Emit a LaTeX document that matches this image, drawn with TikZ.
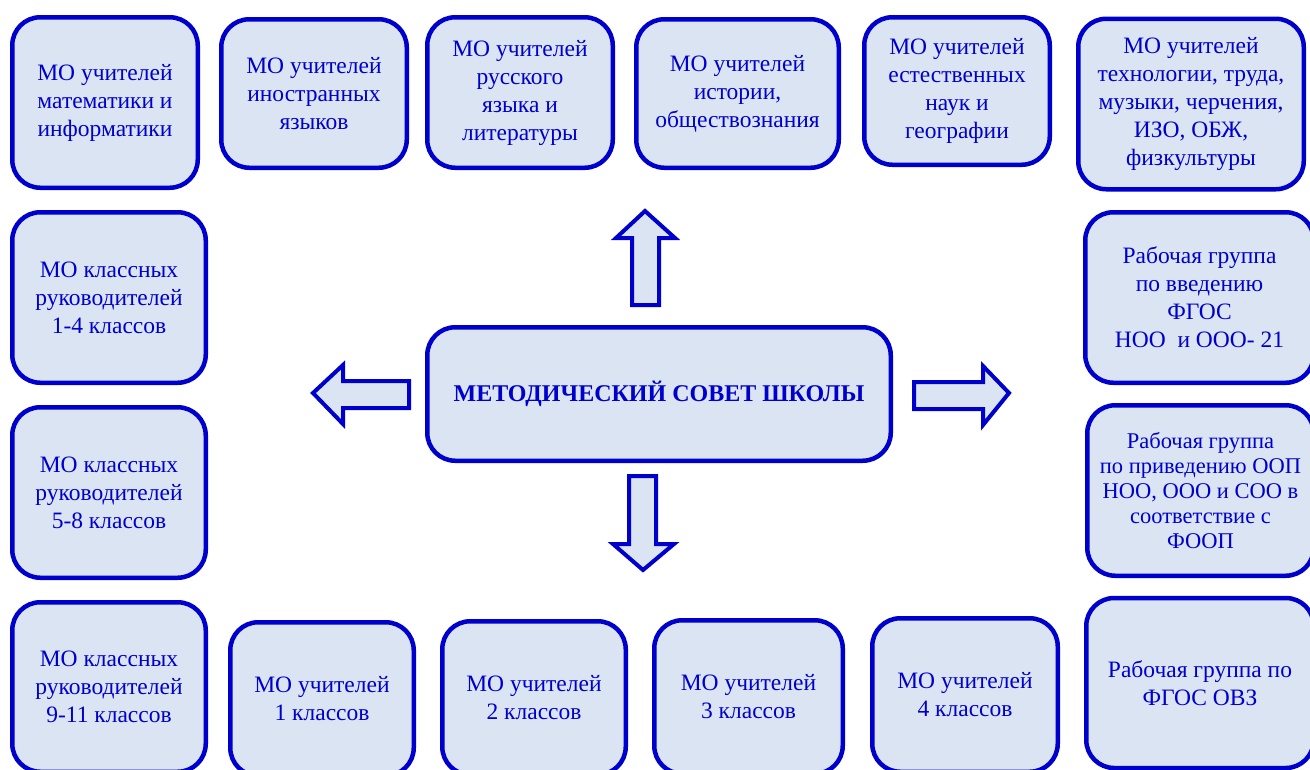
\documentclass[tikz,border=0pt]{standalone}
\usepackage{fontspec}
\setmainfont{Liberation Serif}
\definecolor{bblue}{RGB}{0,0,204}
\definecolor{bfill}{RGB}{219,228,242}
\tikzset{
  box/.style={draw=bblue, fill=bfill, line width=4.5pt, rounded corners=28pt,
    align=center, text=bblue, inner sep=0pt, font=\fontsize{23.5}{28}\selectfont},
  blockarrow/.style={draw=bblue, fill=bfill, line width=4pt, line join=miter}
}
\begin{document}
\begin{tikzpicture}[x=1pt,y=-1pt]
\useasboundingbox (0,0) rectangle (1310,769);
\clip (0,0) rectangle (1310,769);
\fill[white] (0,0) rectangle (1310,769);
% top row
\node[box, minimum width=185.5pt, minimum height=170.5pt] (m1) at (105,102.5) {МО учителей\\математики и\\информатики};
\node[box, minimum width=185.5pt, minimum height=148.5pt] (m2) at (314,93.5) {МО учителей\\иностранных\\языков};
\node[box, minimum width=185.5pt, minimum height=150.5pt] (m3) at (520,92.5) {МО учителей\\русского\\языка и\\литературы};
\node[box, minimum width=202.5pt, minimum height=148.5pt] (m4) at (737.5,93.5) {МО учителей\\истории,\\обществознания};
\node[box, minimum width=185.5pt, minimum height=147.5pt] (m5) at (957,91) {МО учителей\\естественных\\наук и\\географии};
\node[box, minimum width=225.5pt, minimum height=170.5pt] (m6) at (1191,104) {МО учителей\\технологии, труда,\\музыки, черчения,\\ИЗО, ОБЖ,\\физкультуры};
% left column
\node[box, minimum width=193.5pt, minimum height=170.5pt] (k1) at (109,297.5) {МО классных\\руководителей\\1-4 классов};
\node[box, minimum width=193.5pt, minimum height=170.5pt] (k2) at (109,492.5) {МО классных\\руководителей\\5-8 классов};
\node[box, minimum width=193.5pt, minimum height=169.5pt] (k3) at (109,687) {МО классных\\руководителей\\9-11 классов};
% bottom row
\node[box, minimum width=183.5pt, minimum height=153.5pt] (n1) at (322,699) {МО учителей\\1 классов};
\node[box, minimum width=183.5pt, minimum height=153.5pt] (n2) at (534,698) {МО учителей\\2 классов};
\node[box, minimum width=188.5pt, minimum height=153.5pt] (n3) at (748.5,697) {МО учителей\\3 классов};
\node[box, minimum width=185.5pt, minimum height=153.5pt] (n4) at (965,695) {МО учителей\\4 классов};
% right column
\node[box, minimum width=228.5pt, minimum height=170.5pt] (r1) at (1199.5,297.5) {Рабочая группа\\по введению\\ФГОС\\НОО~ и ООО- 21};
\node[box, minimum width=226.5pt, minimum height=170.5pt, font=\fontsize{22.5}{25}\selectfont] (r2) at (1200.5,490.5) {Рабочая группа\\по приведению ООП\\НОО, ООО и СОО в\\соответствие с\\ФООП};
\node[box, minimum width=227.5pt, minimum height=170pt] (r3) at (1200,683) {Рабочая группа по\\ФГОС ОВЗ};
% centre
\node[box, minimum width=463.5pt, minimum height=133.5pt, font=\fontsize{24}{28}\selectfont\bfseries] (c) at (659,394) {МЕТОДИЧЕСКИЙ СОВЕТ ШКОЛЫ};
% block arrows
\draw[blockarrow] (632,305) -- (632,238) -- (616,238) -- (645,211) -- (675,238) -- (659,238) -- (659,305) -- cycle;
\draw[blockarrow] (629,476) -- (656,476) -- (656,544) -- (674,544) -- (643,570) -- (613,544) -- (629,544) -- cycle;
\draw[blockarrow] (409,381) -- (343,381) -- (343,365) -- (313,393) -- (343,424) -- (343,408) -- (409,408) -- cycle;
\draw[blockarrow] (914,382) -- (983,382) -- (983,366) -- (1009,393) -- (983,425) -- (983,409) -- (914,409) -- cycle;
\end{tikzpicture}
\end{document}
